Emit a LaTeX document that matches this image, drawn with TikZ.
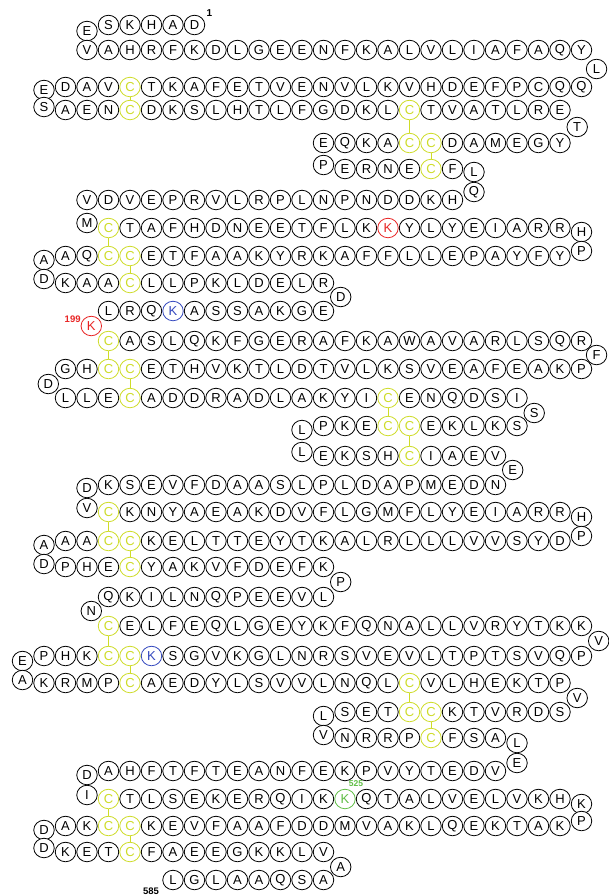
\documentclass[tikz,border=0pt]{standalone}
\usepackage{fontspec}
\setmainfont{Liberation Sans}
\usetikzlibrary{shapes.geometric}
\definecolor{CysYellow}{RGB}{206,220,40}
\definecolor{LysRed}{RGB}{232,36,36}
\definecolor{LysBlue}{RGB}{52,72,190}
\definecolor{LysGreen}{RGB}{96,190,70}
\newcommand{\aarow}[4]{%
  \foreach \lett/\sty [count=\col from #2] in {#4}
    \node[res,aa \sty/.try] (#1-\col) at ({22.5+21.5*\col},#3) {\lett};}
\newcommand{\aaturn}[5]{%
  \node[res,#5] (#1) at ({22.5+21.5*#2},#3) {#4};}
\begin{document}
\begin{tikzpicture}[x=1pt,y=-1pt,
  res/.style={ellipse,draw,fill=white,line width=0.8pt,minimum width=20.5pt,
    minimum height=19.5pt,inner sep=0pt,font=\fontsize{13}{13}\selectfont},
  aa ss/.style={draw=CysYellow,text=CysYellow},
  aa red/.style={draw=LysRed,text=LysRed},
  aa blue/.style={draw=LysBlue,text=LysBlue},
  aa green/.style={draw=LysGreen,text=LysGreen},
  ssbond/.style={draw=CysYellow,line width=0.8pt},
  numlbl/.style={inner sep=0pt,font=\fontsize{9.5}{9.5}\bfseries\selectfont}]
  \useasboundingbox (0,0) rectangle (609,895);
  % domain I
  \aarow{r1}{4}{25}{S,K,H,A,D}
  \aaturn{e1}{3}{31}{E}{}
  \aarow{r2}{3}{50}{V,A,H,R,F,K,D,L,G,E,E,N,F,K,A,L,V,L,I,A,F,A,Q,Y}
  \aaturn{l2}{26.7}{69}{L}{}
  \aarow{r3}{2}{87}{D,A,V,C/ss,T,K,A,F,E,T,V,E,N,V,L,K,V,H,D,E,F,P,C,Q,Q}
  \aaturn{e3}{1}{90}{E}{}
  \aaturn{s4}{1}{107}{S}{}
  \aarow{r4}{2}{110}{A,E,N,C/ss,D,K,S,L,H,T,L,F,G,D,K,L,C/ss,T,V,A,T,L,R,E}
  \aaturn{t4}{25.8}{127}{T}{}
  \aarow{r5}{14}{143}{E,Q,K,A,C/ss,C/ss,D,A,M,E,G,Y}
  \aaturn{p6}{14}{165}{P}{}
  \aarow{r6}{15}{169}{E,R,N,E,C/ss,F}
  \aaturn{l6}{21}{172}{L}{}
  \aaturn{q7}{21}{192}{Q}{}
  \aarow{r7}{3}{200}{V,D,V,E,P,R,V,L,R,P,L,N,P,N,D,D,K,H}
  \aaturn{m8}{3}{223}{M}{}
  \aarow{r8}{4}{228}{C/ss,T,A,F,H,D,N,E,E,T,F,L,K,K/red,Y,L,Y,E,I,A,R,R}
  \aaturn{h8}{26}{232}{H}{}
  \aaturn{p9}{26}{251}{P}{}
  \aarow{r9}{2}{256}{A,Q,C/ss,C/ss,E,T,F,A,A,K,Y,R,K,A,F,F,L,L,E,P,A,Y,F,Y}
  \aaturn{a9}{1}{260}{A}{}
  \aaturn{d10}{1}{279}{D}{}
  \aarow{r10}{2}{283}{K,A,A,C/ss,L,L,P,K,L,D,E,L,R}
  \aaturn{d11}{14.8}{297}{D}{}
  \aarow{r11}{4}{311}{L,R,Q,K/blue,A,S,S,A,K,G,E}
  % domain II
  \aaturn{k199}{3.2}{326}{K}{aa red}
  \aarow{r12}{4}{341}{C/ss,A,S,L,Q,K,F,G,E,R,A,F,K,A,W,A,V,A,R,L,S,Q,R}
  \aaturn{f12}{26.7}{355}{F}{}
  \aarow{r13}{2}{369}{G,H,C/ss,C/ss,E,T,H,V,K,T,L,D,T,V,L,K,S,V,E,A,F,E,A,K,P}
  \aaturn{d13}{1.2}{384}{D}{}
  \aarow{r14}{2}{398}{L,L,E,C/ss,A,D,D,R,A,D,L,A,K,Y,I,C/ss,E,N,Q,D,S,I}
  \aaturn{s14}{23.8}{413}{S}{}
  \aarow{r15}{14}{426}{P,K,E,C/ss,C/ss,E,K,L,K,S}
  \aaturn{l15}{13}{430}{L}{}
  \aaturn{l16}{13}{452}{L}{}
  \aarow{r16}{14}{456}{E,K,S,H,C/ss,I,A,E,V}
  \aaturn{e16}{22.8}{470}{E}{}
  \aarow{r17}{4}{485}{K,S,E,V,F,D,A,A,S,L,P,L,D,A,P,M,E,D,N}
  \aaturn{d17}{3}{488}{D}{}
  \aaturn{v18}{3}{508}{V}{}
  \aarow{r18}{4}{512}{C/ss,K,N,Y,A,E,A,K,D,V,F,L,G,M,F,L,Y,E,I,A,R,R}
  \aaturn{h18}{26}{517}{H}{}
  \aaturn{p19}{26}{536}{P}{}
  \aarow{r19}{2}{541}{A,A,C/ss,C/ss,K,E,L,T,T,E,Y,T,K,A,L,R,L,L,L,V,V,S,Y,D}
  \aaturn{a19}{1}{545}{A}{}
  \aaturn{d20}{1}{564}{D}{}
  \aarow{r20}{2}{567}{P,H,E,C/ss,Y,A,K,V,F,D,E,F,K}
  \aaturn{p20}{14.8}{582}{P}{}
  \aarow{r21}{4}{597}{Q,K,I,L,N,Q,P,E,E,V,L}
  % domain III
  \aaturn{n21}{3.2}{611}{N}{}
  \aarow{r22}{4}{626}{C/ss,E,L,F,E,Q,L,G,E,Y,K,F,Q,N,A,L,L,V,R,Y,T,K,K}
  \aaturn{v22}{26.8}{641}{V}{}
  \aarow{r23}{1}{656}{P,H,K,C/ss,C/ss,K/blue,S,G,V,K,G,L,N,R,S,V,E,V,L,T,P,T,S,V,Q,P}
  \aaturn{e23}{0}{661}{E}{}
  \aaturn{a24}{0}{680}{A}{}
  \aarow{r24}{1}{683}{K,R,M,P,C/ss,A,E,D,Y,L,S,V,V,L,N,Q,L,C/ss,V,L,H,E,K,T,P}
  \aaturn{v24}{25.8}{698}{V}{}
  \aarow{r25}{15}{712}{S,E,T,C/ss,C/ss,K,T,V,R,D,S}
  \aaturn{l25}{14}{716}{L}{}
  \aaturn{v26}{14}{735}{V}{}
  \aarow{r26}{15}{738}{N,R,R,P,C/ss,F,S,A}
  \aaturn{l26}{23}{743}{L}{}
  \aaturn{e27}{23}{763}{E}{}
  \aarow{r27}{4}{771}{A,H,F,T,F,T,E,A,N,F,E,K,P,V,Y,T,E,D,V}
  \aaturn{d27}{3}{775}{D}{}
  \aaturn{i28}{3}{795}{I}{}
  \aarow{r28}{4}{799}{C/ss,T,L,S,E,K,E,R,Q,I,K,K/green,Q,T,A,L,V,E,L,V,K,H}
  \aaturn{k28}{26}{804}{K}{}
  \aaturn{p29}{26}{821}{P}{}
  \aarow{r29}{2}{826}{A,K,C/ss,C/ss,K,E,V,F,A,A,F,D,D,M,V,A,K,L,Q,E,K,T,A,K}
  \aaturn{d29}{1}{830}{D}{}
  \aaturn{d30}{1}{848}{D}{}
  \aarow{r30}{2}{852}{K,E,T,C/ss,F,A,E,E,G,K,K,L,V}
  \aaturn{a30}{14.8}{867}{A}{}
  \aarow{r31}{7}{880}{L,G,L,A,A,Q,S,A}
  % disulfide bridges
  \draw[ssbond] (r3-5) -- (r4-5);
  \draw[ssbond] (r4-18) -- (r5-18);
  \draw[ssbond] (r5-19) -- (r6-19);
  \draw[ssbond] (r8-4) -- (r9-4);
  \draw[ssbond] (r9-5) -- (r10-5);
  \draw[ssbond] (r12-4) -- (r13-4);
  \draw[ssbond] (r13-5) -- (r14-5);
  \draw[ssbond] (r14-17) -- (r15-17);
  \draw[ssbond] (r15-18) -- (r16-18);
  \draw[ssbond] (r18-4) -- (r19-4);
  \draw[ssbond] (r19-5) -- (r20-5);
  \draw[ssbond] (r22-4) -- (r23-4);
  \draw[ssbond] (r23-5) -- (r24-5);
  \draw[ssbond] (r24-18) -- (r25-18);
  \draw[ssbond] (r25-19) -- (r26-19);
  \draw[ssbond] (r28-4) -- (r29-4);
  \draw[ssbond] (r29-5) -- (r30-5);
  % residue numbers
  \node[numlbl,font=\fontsize{10}{10}\bfseries\selectfont] (n1) at ([xshift=15pt,yshift=12pt]r1-8.center) {1};
  \node[numlbl,LysRed,anchor=east] (n199) at ([xshift=-3pt]k199.north west) {199};
  \node[numlbl,LysGreen,font=\fontsize{8.5}{8.5}\bfseries\selectfont] (n525) at ([xshift=11pt,yshift=15pt]r28-15.center) {525};
  \node[numlbl] (n585) at ([xshift=-22pt,yshift=-11pt]r31-7.center) {585};
\end{tikzpicture}
\end{document}
